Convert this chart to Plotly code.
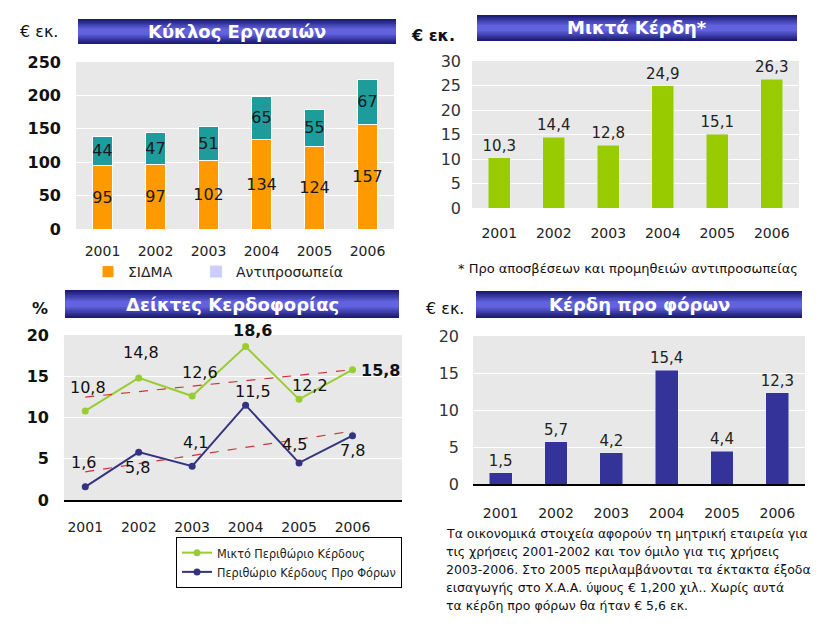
import numpy as np
import plotly.graph_objects as go

# ---------------- data ----------------
YEARS = ["2001", "2002", "2003", "2004", "2005", "2006"]
SIDMA_SALES = [95, 97, 102, 134, 124, 157]
AGENCY_SALES = [44, 47, 51, 65, 55, 67]
GROSS_PROFIT = [10.3, 14.4, 12.8, 24.9, 15.1, 26.3]
GROSS_MARGIN = [10.8, 14.8, 12.6, 18.6, 12.2, 15.8]
PRETAX_MARGIN = [1.6, 5.8, 4.1, 11.5, 4.5, 7.8]
PRETAX_PROFIT = [1.5, 5.7, 4.2, 15.4, 4.4, 12.3]

TITLE_SALES = "Κύκλος Εργασιών"
TITLE_GROSS = "Μικτά Κέρδη*"
TITLE_MARGINS = "Δείκτες Κερδοφορίας"
TITLE_PRETAX = "Κέρδη προ φόρων"
NAME_SIDMA = "ΣΙΔΜΑ"
NAME_AGENCY = "Αντιπροσωπεία"
NAME_GM = "Μικτό Περιθώριο Κέρδους"
NAME_PM = "Περιθώριο Κέρδους Προ Φόρων"
NOTE_GROSS = "* Προ αποσβέσεων και προμηθειών αντιπροσωπείας"
NOTE_PRETAX_LINES = [
    "Τα οικονομικά στοιχεία αφορούν τη μητρική εταιρεία για",
    "τις χρήσεις 2001-2002 και τον όμιλο για τις χρήσεις",
    "2003-2006. Στο 2005 περιλαμβάνονται τα έκτακτα έξοδα",
    "εισαγωγής στο Χ.Α.Α. ύψους € 1,200 χιλ.. Χωρίς αυτά",
    "τα κέρδη προ φόρων θα ήταν € 5,6 εκ.",
]

# ---------------- styles ----------------
FONT = "DejaVu Sans"
FONT_COND = "DejaVu Sans Condensed, DejaVu Sans"
ORANGE = "#FF9900"
TEAL = "#1E9C9C"
LAVENDER = "#CCCCFF"
GREEN = "#99CC00"
GREEN_LINE = "#99CC33"
NAVY = "#333399"
NAVY_LINE = "#33337F"
TREND = "#CC3333"
BG = "#E8E8E8"

# label offsets (px) for the line chart values
GM_SHIFT = [(3, 23), (2, 25), (8, 24), (7, 16), (11, 14), (28, -1)]
PM_SHIFT = [(-2, 24), (-1, -15), (3, 24), (7, 14), (-5, 18), (0, -15)]
GM_BOLD = [False, False, False, True, False, True]

W, H = 832, 637


def px(x):
    return x / W


def py(y):
    return 1 - y / H


def fmt(v):
    return f"{v:.1f}".replace(".", ",")


fig = go.Figure()

# --- top-left: stacked bars ---
inside_font = dict(family=FONT, size=16, color="#1a1a1a")
fig.add_trace(go.Bar(x=YEARS, y=SIDMA_SALES, name=NAME_SIDMA,
                     marker=dict(color=ORANGE, line=dict(color="white", width=1)),
                     width=0.38, text=SIDMA_SALES, textposition="inside", insidetextanchor="middle",
                     textangle=0, constraintext="none", textfont=inside_font,
                     xaxis="x", yaxis="y", legend="legend"))
fig.add_trace(go.Bar(x=YEARS, y=AGENCY_SALES, name=NAME_AGENCY,
                     marker=dict(color=TEAL, line=dict(color="white", width=1)),
                     width=0.38, text=AGENCY_SALES, textposition="inside", insidetextanchor="middle",
                     textangle=0, constraintext="none", textfont=inside_font,
                     showlegend=False, xaxis="x", yaxis="y"))
fig.add_trace(go.Bar(x=[None], y=[None], name=NAME_AGENCY, marker=dict(color=LAVENDER),
                     xaxis="x", yaxis="y", legend="legend3"))

# --- top-right: gross profit ---
fig.add_trace(go.Bar(x=YEARS, y=GROSS_PROFIT, marker=dict(color=GREEN), width=0.4,
                     texttemplate="%{y:.1f}", textposition="outside", cliponaxis=False,
                     textangle=0, constraintext="none",
                     textfont=dict(family=FONT, size=15, color="#222"),
                     showlegend=False, xaxis="x2", yaxis="y2"))

# --- bottom-left: margins ---
idx = np.arange(len(YEARS))
fig.add_trace(go.Scatter(x=YEARS, y=GROSS_MARGIN, name=NAME_GM, mode="lines+markers",
                         line=dict(color=GREEN_LINE, width=2), marker=dict(size=7, color=GREEN_LINE),
                         xaxis="x3", yaxis="y3", legend="legend2"))
fig.add_trace(go.Scatter(x=YEARS, y=PRETAX_MARGIN, name=NAME_PM, mode="lines+markers",
                         line=dict(color=NAVY_LINE, width=2), marker=dict(size=7, color=NAVY_LINE),
                         xaxis="x3", yaxis="y3", legend="legend2"))
for series in (GROSS_MARGIN, PRETAX_MARGIN):
    coef = np.polyfit(idx, series, 1)
    fig.add_trace(go.Scatter(x=YEARS, y=np.polyval(coef, idx), mode="lines",
                             line=dict(color=TREND, width=1.2, dash="dash"),
                             showlegend=False, hoverinfo="skip", xaxis="x3", yaxis="y3"))

annotations = []
for i, v in enumerate(GROSS_MARGIN):
    dx, dy = GM_SHIFT[i]
    annotations.append(dict(x=i, y=v, xref="x3", yref="y3", text=fmt(v), showarrow=False,
                            xshift=dx, yshift=dy,
                            font=dict(family=FONT, size=16, color="#111",
                                      weight="bold" if GM_BOLD[i] else "normal")))
for i, v in enumerate(PRETAX_MARGIN):
    dx, dy = PM_SHIFT[i]
    annotations.append(dict(x=i, y=v, xref="x3", yref="y3", text=fmt(v), showarrow=False,
                            xshift=dx, yshift=dy, font=dict(family=FONT, size=16, color="#111")))

# --- bottom-right: pre-tax profit ---
fig.add_trace(go.Bar(x=YEARS, y=PRETAX_PROFIT, marker=dict(color=NAVY), width=0.41,
                     texttemplate="%{y:.1f}", textposition="outside", cliponaxis=False,
                     textangle=0, constraintext="none",
                     textfont=dict(family=FONT, size=15, color="#222"),
                     showlegend=False, xaxis="x4", yaxis="y4"))

# ---------------- banners ----------------
shapes = []


def banner(x0, y0, x1, y1, text):
    n = 7
    edge = np.array([28, 28, 118])
    mid = np.array([98, 98, 222])
    h = y1 - y0
    for k in range(n):
        t = k / (n - 1)
        c = edge + (mid - edge) * t
        inset = k * (h / 2 - 1.5) / n
        shapes.append(dict(type="rect", xref="paper", yref="paper",
                           x0=px(x0), x1=px(x1), y0=py(y1 - inset), y1=py(y0 + inset),
                           fillcolor=f"rgb({int(c[0])},{int(c[1])},{int(c[2])})", line=dict(width=0),
                           layer="above"))
    annotations.append(dict(x=px((x0 + x1) / 2), y=py((y0 + y1) / 2), xref="paper", yref="paper",
                            text=text, showarrow=False, xanchor="center", yanchor="middle",
                            font=dict(family=FONT, size=18, color="white", weight="bold")))


banner(78, 19, 396, 44, TITLE_SALES)
banner(477, 15, 797, 41, TITLE_GROSS)
banner(65, 290, 399, 318, TITLE_MARGINS)
banner(476, 291, 802, 318, TITLE_PRETAX)


def label(x, y, text, size=16, anchor="center", weight="normal"):
    annotations.append(dict(x=px(x), y=py(y), xref="paper", yref="paper", text=text, showarrow=False,
                            xanchor=anchor, yanchor="middle",
                            font=dict(family=FONT, size=size, color="#111", weight=weight)))


label(39, 32, "€ εκ.", 16)
label(433, 35, "€ εκ.", 16, weight="bold")
label(40, 308, "%", 16, weight="bold")
label(445, 308, "€ εκ.", 16)
label(456, 268, NOTE_GROSS, 13, anchor="left")
for k, line_text in enumerate(NOTE_PRETAX_LINES):
    label(444, 533 + 18.2 * k, line_text, 12.5, anchor="left")


# ---------------- axes ----------------
def xax(d0, d1, anchor, standoff, line=False):
    return dict(domain=[px(d0), px(d1)], anchor=anchor, type="category", showgrid=False,
                tickfont=dict(family=FONT, size=14, color="#222"), ticks="",
                ticklabelstandoff=standoff, showline=line, linecolor="black", linewidth=1.5,
                fixedrange=True, automargin=False)


def yax(d0, d1, anchor, rng, dtick, bold, size, standoff):
    return dict(domain=[py(d1), py(d0)], anchor=anchor, range=rng, dtick=dtick, showgrid=True,
                gridcolor="white", gridwidth=1, zeroline=False, ticks="",
                tickfont=dict(family=FONT, size=size, color="#111" if bold else "#333",
                              weight="bold" if bold else "normal"),
                ticklabelstandoff=standoff, fixedrange=True, automargin=False)


small_legend = dict(orientation="h", y=py(272), xanchor="left", yanchor="middle",
                    font=dict(family=FONT, size=14, color="#222"), bgcolor="rgba(0,0,0,0)")

fig.update_layout(
    width=W, height=H, margin=dict(l=0, r=0, t=0, b=0, pad=0, autoexpand=False),
    paper_bgcolor="white", plot_bgcolor=BG,
    barmode="stack", separators=",.",
    font=dict(family=FONT),
    xaxis=xax(76, 394, "y", 12),
    yaxis=yax(62, 229, "x", [0, 250], 50, True, 16, 14),
    xaxis2=xax(472, 799, "y2", 15),
    yaxis2=yax(61, 208, "x2", [0, 30], 5, False, 16, 10),
    xaxis3=xax(64, 402, "y3", 13, line=True),
    yaxis3=yax(335, 500, "x3", [0, 20], 5, True, 16, 14),
    xaxis4=xax(473, 805, "y4", 15, line=True),
    yaxis4=yax(336, 484, "x4", [0, 20], 5, False, 16, 13),
    legend=dict(small_legend, x=px(88)),
    legend3=dict(small_legend, x=px(196)),
    legend2=dict(x=px(402), y=py(537), xanchor="right", yanchor="top", bgcolor="white",
                 bordercolor="black", borderwidth=1, font=dict(family=FONT_COND, size=12.5, color="#222"),
                 tracegroupgap=0, itemwidth=30),
    shapes=shapes, annotations=annotations,
)

fig.write_html("out.html", config={"displayModeBar": False},
               post_script="document.body.style.margin='0';document.body.style.padding='0';")
